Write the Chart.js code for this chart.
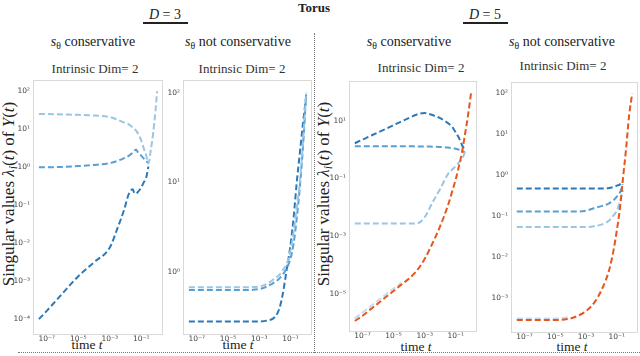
<!DOCTYPE html>
<html>
<head>
<meta charset="utf-8">
<script src="https://cdn.jsdelivr.net/npm/chart.js@4.4.0/dist/chart.umd.min.js"></script>
<style>
  body { margin: 0; background: #fff; }
  #fig { position: relative; width: 640px; height: 356px; overflow: hidden;
         font-family: 'Liberation Serif', 'Times New Roman', serif; color: #222; }
  #fig canvas { position: absolute; }
  .txt { position: absolute; white-space: nowrap; transform: translate(-50%, -50%); line-height: 1; }
  .txt sub { font-size: 70%; vertical-align: -0.3em; line-height: 0; }
  .head { font-size: 14px; }
  .sub { font-size: 13px; color: #333; }
  .xl { font-size: 13.5px; }
  .yl { font-size: 17px; transform: translate(-50%, -50%) rotate(-90deg); }
  .ul { position: absolute; height: 1.5px; background: #222; }
  .vdot { position: absolute; left: 314px; top: 33px; height: 320px; border-left: 1px dotted #777; }
  .hdot { position: absolute; left: 18px; top: 352px; width: 622px; border-top: 1px dotted #777; }
</style>
</head>
<body>
<div id="fig">
  <div class="txt" style="left:314px;top:7px;font-size:13px;font-weight:bold;">Torus</div>
  <div class="txt" style="left:165px;top:15px;font-size:14px;"><i>D</i> = 3</div>
  <div class="ul" style="left:143px;top:22px;width:45px;"></div>
  <div class="txt" style="left:485px;top:15px;font-size:14px;"><i>D</i> = 5</div>
  <div class="ul" style="left:463px;top:22px;width:45px;"></div>

  <div class="txt head" style="left:93px;top:42px;"><i>s</i><sub>θ</sub> conservative</div>
  <div class="txt head" style="left:238px;top:42px;"><i>s</i><sub>θ</sub> not conservative</div>
  <div class="txt head" style="left:409px;top:42px;"><i>s</i><sub>θ</sub> conservative</div>
  <div class="txt head" style="left:562px;top:42px;"><i>s</i><sub>θ</sub> not conservative</div>

  <div class="txt sub" style="left:95px;top:68px;">Intrinsic Dim= 2</div>
  <div class="txt sub" style="left:242px;top:68px;">Intrinsic Dim= 2</div>
  <div class="txt sub" style="left:421px;top:67px;">Intrinsic Dim= 2</div>
  <div class="txt sub" style="left:563px;top:65px;">Intrinsic Dim= 2</div>

  <div class="txt yl" style="left:8px;top:194px;">Singular values <i>λ<sub>i</sub></i>(<i>t</i>) of <i>Y</i>(<i>t</i>)</div>
  <div class="txt yl" style="left:323px;top:194px;">Singular values <i>λ<sub>i</sub></i>(<i>t</i>) of <i>Y</i>(<i>t</i>)</div>

  <div class="txt xl" style="left:87px;top:345px;">time <i>t</i></div>
  <div class="txt xl" style="left:238px;top:345px;">time <i>t</i></div>
  <div class="txt xl" style="left:416px;top:347px;">time <i>t</i></div>
  <div class="txt xl" style="left:572px;top:347px;">time <i>t</i></div>

  <div class="vdot"></div>
  <div class="hdot"></div>

  <canvas id="p1"></canvas>
  <canvas id="p2"></canvas>
  <canvas id="p3"></canvas>
  <canvas id="p4"></canvas>
</div>

<script>
// all values are log10 exponents
const xTickExps = [-7, -5, -3, -1];

// D = 3, s_theta conservative
const p1Time = [-7.5, -7, -6, -5, -4, -3, -2.5, -2.1, -1.8, -1.55, -1.45, -1.35, -1.2, -1.0, -0.85, -0.7, -0.55, -0.4, -0.25, -0.1, 0];
const p1Light = [1.40, 1.40, 1.39, 1.38, 1.36, 1.32, 1.25, 1.18, 1.13, 1.05, 1.01, 0.97, 0.88, 0.70, 0.50, 0.33, 0.10, 0.45, 0.90, 1.50, 2.00];
const p1Mid = [0.00, 0.00, 0.01, 0.03, 0.06, 0.11, 0.17, 0.24, 0.30, 0.38, 0.42, 0.47, 0.38, 0.30, 0.23, 0.16, 0.12, null, null, null, null];
const p1Dark = [-4.00, -3.78, -3.32, -2.87, -2.50, -2.11, -1.59, -1.13, -0.71, -0.58, -0.67, -0.70, -0.64, -0.53, -0.40, -0.29, 0.02, null, null, null, null];
const p1YTicks = [-4, -3, -2, -1, 0, 1, 2];

// D = 3, s_theta not conservative
const p2Time = [-7.5, -7, -6, -5, -4, -3, -2.5, -2, -1.7, -1.5, -1.25, -1, -0.8, -0.6, -0.4, -0.2, 0];
const p2Light = [-0.17, -0.17, -0.17, -0.17, -0.17, -0.16, -0.13, -0.07, -0.03, 0.02, 0.09, 0.24, 0.45, 0.72, 1.00, 1.45, 2.00];
const p2Mid = [-0.20, -0.20, -0.20, -0.20, -0.20, -0.19, -0.16, -0.11, -0.07, -0.03, 0.04, 0.15, 0.32, 0.60, 0.95, 1.40, 1.98];
const p2Dark = [-0.55, -0.55, -0.55, -0.55, -0.55, -0.55, -0.54, -0.50, -0.40, -0.25, 0.02, 0.30, 0.61, 1.00, 1.33, 1.66, 1.95];
const p2YTicks = [0, 1, 2];

// D = 5, s_theta conservative
const p3Time = [-7.5, -7, -6.5, -6, -5.5, -5, -4.5, -4, -3.5, -3, -2.5, -2, -1.5, -1.2, -1, -0.8, -0.6, -0.4, -0.2, 0];
const p3Orange = [-5.95, -5.77, -5.55, -5.34, -5.12, -4.91, -4.69, -4.48, -4.20, -3.80, -3.26, -2.66, -1.94, -1.41, -1.04, -0.60, -0.11, 0.53, 1.20, 2.00];
const p3Pale = [-5.86, -5.66, -5.45, -5.24, -5.03, -4.83, -4.63, null, null, null, null, null, null, null, null, null, null, null, null, null];
const p3Light = [-2.57, -2.57, -2.57, -2.57, -2.57, -2.57, -2.57, -2.57, -2.57, -2.35, -1.84, -1.37, -0.85, -0.68, -0.58, -0.45, -0.35, -0.08, null, null];
const p3Mid = [0.12, 0.12, 0.12, 0.12, 0.12, 0.12, 0.12, 0.12, 0.11, 0.11, 0.10, 0.09, 0.07, 0.05, 0.03, 0.00, -0.05, -0.10, null, null];
const p3Dark = [0.22, 0.35, 0.47, 0.60, 0.72, 0.85, 0.98, 1.10, 1.22, 1.27, 1.20, 1.09, 0.92, 0.77, 0.60, 0.42, 0.17, -0.03, null, null];
const p3YTicks = [-5, -3, -1, 1];

// D = 5, s_theta not conservative
const p4Time = [-7.5, -7, -6, -5, -4.5, -4, -3.5, -3, -2.5, -2, -1.5, -1.2, -1, -0.8, -0.6, -0.4, -0.2, 0];
const p4Orange = [-3.53, -3.53, -3.53, -3.53, -3.52, -3.49, -3.42, -3.31, -3.12, -2.80, -2.31, -1.80, -1.34, -0.81, -0.07, 0.65, 1.47, 2.00];
const p4Pale = [-3.49, -3.49, -3.49, -3.49, -3.48, -3.45, null, null, null, null, null, null, null, null, null, null, null, null];
const p4Light = [-1.26, -1.26, -1.26, -1.26, -1.26, -1.26, -1.26, -1.26, -1.24, -1.20, -1.10, -0.97, -0.86, -0.65, -0.36, null, null, null];
const p4Mid = [-0.88, -0.88, -0.88, -0.88, -0.88, -0.88, -0.88, -0.86, -0.80, -0.75, -0.68, -0.60, -0.52, -0.42, -0.22, null, null, null];
const p4Dark = [-0.32, -0.32, -0.32, -0.32, -0.32, -0.32, -0.32, -0.32, -0.32, -0.32, -0.31, -0.28, -0.25, -0.22, -0.12, null, null, null];
const p4YTicks = [-3, -2, -1, 0, 1, 2];

const DARK = '#2b79b8';
const MID = '#5a9fd2';
const LIGHT = '#98c6e3';
const PALE = '#c6dcee';
const ORANGE = '#e8561c';

const SUP = { '-': '⁻', '0': '⁰', '1': '¹', '2': '²', '3': '³', '4': '⁴', '5': '⁵', '6': '⁶', '7': '⁷', '8': '⁸', '9': '⁹' };
function powLabel(v) {
    const e = String(Math.round(Math.log10(v)));
    return '10' + e.split('').map(c => SUP[c]).join('');
}

const framePlugin = {
    id: 'frame',
    beforeDatasetsDraw(chart) {
        const { ctx, chartArea: a } = chart;
        ctx.save();
        ctx.strokeStyle = '#d9d9d9';
        ctx.lineWidth = 1;
        ctx.strokeRect(Math.round(a.left) + 0.5, Math.round(a.top) + 0.5, Math.round(a.width) - 1, Math.round(a.height) - 1);
        ctx.restore();
    }
};

const tickFont = { family: 'DejaVu Sans', size: 7.5 };

function makePanel(id, box, times, series, yRange, yTickExps) {
    const padL = 30, padT = 4, padR = 4, padB = 14;
    const canvas = document.getElementById(id);
    canvas.width = box.r - box.l + padL + padR;
    canvas.height = box.b - box.t + padT + padB;
    canvas.style.left = (box.l - padL) + 'px';
    canvas.style.top = (box.t - padT) + 'px';

    const datasets = series.map(s => ({
        data: times.map((t, i) => ({ x: Math.pow(10, t), y: s.values[i] === null ? null : Math.pow(10, s.values[i]) })),
        borderColor: s.color,
        borderWidth: 2,
        borderDash: [6, 3],
        pointRadius: 0,
        fill: false,
        cubicInterpolationMode: 'monotone'
    }));

    return new Chart(canvas, {
        type: 'line',
        data: { datasets },
        options: {
            responsive: false,
            animation: false,
            devicePixelRatio: 1,
            layout: { padding: { left: 0, top: padT, right: padR, bottom: 0 } },
            plugins: { legend: { display: false }, tooltip: { enabled: false } },
            scales: {
                x: {
                    type: 'logarithmic',
                    min: Math.pow(10, -7.875),
                    max: Math.pow(10, 0.375),
                    grid: { display: false, drawTicks: false },
                    border: { display: false },
                    afterBuildTicks: s => { s.ticks = xTickExps.map(e => ({ value: Math.pow(10, e) })); },
                    afterFit: s => { s.height = padB; },
                    ticks: { callback: v => powLabel(v), font: tickFont, color: '#444', padding: 1, autoSkip: false, maxRotation: 0 }
                },
                y: {
                    type: 'logarithmic',
                    min: Math.pow(10, yRange[0]),
                    max: Math.pow(10, yRange[1]),
                    grid: { display: false, drawTicks: false },
                    border: { display: false },
                    afterBuildTicks: s => { s.ticks = yTickExps.map(e => ({ value: Math.pow(10, e) })); },
                    afterFit: s => { s.width = padL; },
                    ticks: { callback: v => powLabel(v), font: tickFont, color: '#444', padding: 3, autoSkip: false }
                }
            }
        },
        plugins: [framePlugin]
    });
}

makePanel('p1', { l: 33, t: 76, r: 163, b: 334 }, p1Time, [
    { values: p1Light, color: LIGHT },
    { values: p1Mid, color: MID },
    { values: p1Dark, color: DARK }
], [-4.39, 2.31], p1YTicks);

makePanel('p2', { l: 183, t: 76, r: 312, b: 334 }, p2Time, [
    { values: p2Light, color: LIGHT },
    { values: p2Mid, color: MID },
    { values: p2Dark, color: DARK }
], [-0.69, 2.146], p2YTicks);

makePanel('p3', { l: 349, t: 77, r: 477, b: 331 }, p3Time, [
    { values: p3Orange, color: ORANGE },
    { values: p3Pale, color: PALE },
    { values: p3Light, color: LIGHT },
    { values: p3Mid, color: MID },
    { values: p3Dark, color: DARK }
], [-6.30, 2.40], p3YTicks);

makePanel('p4', { l: 511, t: 78, r: 638, b: 332 }, p4Time, [
    { values: p4Orange, color: ORANGE },
    { values: p4Pale, color: PALE },
    { values: p4Light, color: LIGHT },
    { values: p4Mid, color: MID },
    { values: p4Dark, color: DARK }
], [-3.82, 2.29], p4YTicks);
</script>
</body>
</html>
